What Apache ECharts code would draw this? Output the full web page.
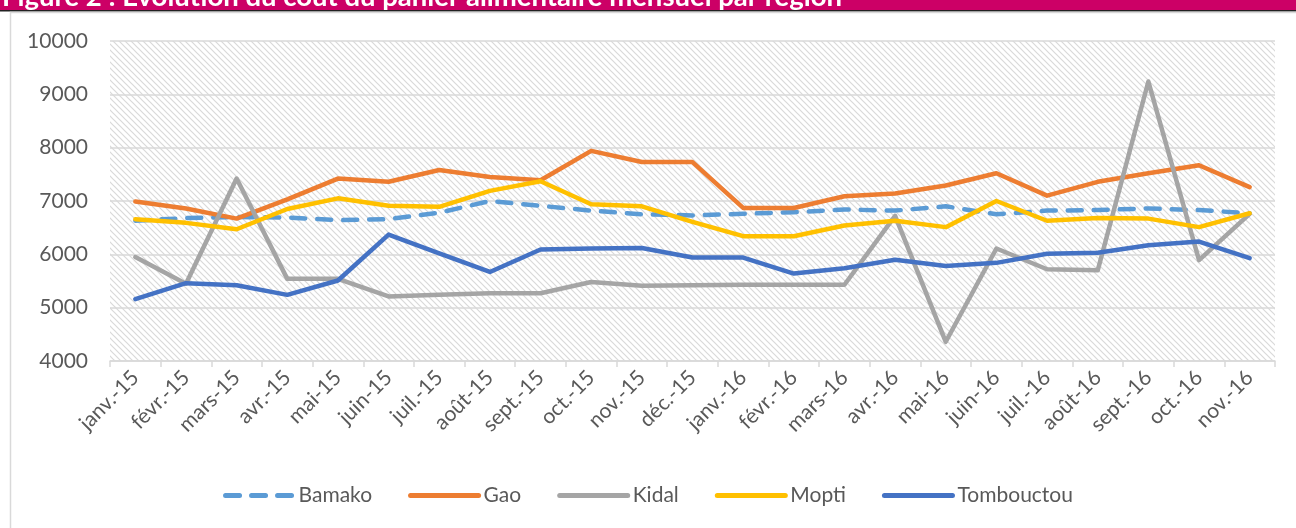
<!DOCTYPE html>
<html>
<head>
<meta charset="utf-8">
<script src="https://cdn.jsdelivr.net/npm/echarts@6/dist/echarts.min.js"></script>
<style>
  html, body { margin: 0; padding: 0; background: #fff; }
  #chart { width: 1296px; height: 528px; }
</style>
</head>
<body>
<div id="chart"></div>
<script>
// months, janv. 2015 -> nov. 2016
const months = ['janv.-15', 'févr.-15', 'mars-15', 'avr.-15', 'mai-15', 'juin-15', 'juil.-15', 'août-15',
  'sept.-15', 'oct.-15', 'nov.-15', 'déc.-15', 'janv.-16', 'févr.-16', 'mars-16', 'avr.-16', 'mai-16',
  'juin-16', 'juil.-16', 'août-16', 'sept.-16', 'oct.-16', 'nov.-16']

const bamako = [6630, 6680, 6700, 6690, 6640, 6660, 6780, 7000, 6910, 6820, 6750, 6730,
  6760, 6790, 6840, 6820, 6900, 6750, 6820, 6830, 6860, 6830, 6770]
const gao = [6990, 6860, 6670, 7030, 7420, 7360, 7580, 7450, 7390, 7940, 7730, 7730,
  6870, 6870, 7090, 7140, 7290, 7520, 7100, 7360, 7520, 7670, 7260]
const kidal = [5950, 5450, 7420, 5540, 5540, 5210, 5240, 5270, 5270, 5480, 5410, 5420,
  5430, 5430, 5430, 6720, 4360, 6110, 5720, 5700, 9240, 5890, 6760]
const mopti = [6660, 6590, 6470, 6850, 7050, 6910, 6890, 7190, 7370, 6940, 6900, 6610,
  6340, 6340, 6540, 6630, 6510, 7000, 6630, 6680, 6670, 6510, 6770]
const tombouctou = [5160, 5460, 5420, 5240, 5510, 6370, 6020, 5670, 6090, 6110, 6120, 5940,
  5940, 5640, 5740, 5900, 5780, 5840, 6010, 6030, 6170, 6240, 5930]

const yTicks = { min: 4000, max: 10000, interval: 1000 }

const fontFamily = 'Lato, "Open Sans", sans-serif'
const textColor = '#595959'

// hatched plot background
function hatch() {
  const s = 6
  const c = document.createElement('canvas')
  c.width = s
  c.height = s
  const ctx = c.getContext('2d')
  ctx.fillStyle = '#ffffff'
  ctx.fillRect(0, 0, s, s)
  ctx.strokeStyle = '#d9d9d9'
  ctx.lineWidth = 1.2
  ctx.beginPath()
  ctx.moveTo(-1, -1); ctx.lineTo(s + 1, s + 1)
  ctx.moveTo(-1, s - 1); ctx.lineTo(1, s + 1)
  ctx.moveTo(s - 1, -1); ctx.lineTo(s + 1, 1)
  ctx.stroke()
  return { image: c, repeat: 'repeat' }
}

function lineSeries(name, data, color, dashed) {
  return {
    name: name,
    type: 'line',
    data: data,
    symbol: 'none',
    smooth: false,
    lineStyle: {
      color: color,
      width: 4.5,
      type: dashed ? [14, 12] : 'solid',
      cap: 'round',
      join: 'round'
    },
    itemStyle: { color: color }
  }
}

const chart = echarts.init(document.getElementById('chart'))
chart.setOption({
  animation: false,
  backgroundColor: '#ffffff',
  textStyle: { fontFamily: fontFamily },
  graphic: [
    { type: 'rect', z: 0, shape: { x: 0, y: 0, width: 1296, height: 10 }, style: { fill: '#cc0066' } },
    { type: 'rect', z: 0, shape: { x: 0, y: 10, width: 1296, height: 1.5 }, style: { fill: '#222' } },
    { type: 'rect', z: 0, shape: { x: 10.5, y: 12.5, width: 1300, height: 530 }, style: { fill: 'none', stroke: '#d9d9d9', lineWidth: 1.5 } },
    {
      type: 'text', z: 1, left: 2, top: -17,
      style: { text: 'Figure 2 : Evolution du coût du panier alimentaire mensuel par région', fill: '#ffffff', font: 'bold 27.5px ' + fontFamily }
    }
  ],
  grid: {
    left: 110,
    right: 21,
    top: 41,
    bottom: 167,
    show: true,
    borderWidth: 0,
    backgroundColor: hatch()
  },
  legend: {
    bottom: 17,
    left: 'center',
    itemWidth: 68,
    itemHeight: 14,
    itemGap: 36,
    itemStyle: { opacity: 0 },
    lineStyle: { width: 5, cap: 'round' },
    textStyle: { color: textColor, fontSize: 21, fontFamily: fontFamily },
    data: ['Bamako', 'Gao', 'Kidal', 'Mopti', 'Tombouctou']
  },
  xAxis: {
    type: 'category',
    data: months,
    boundaryGap: true,
    axisLine: { lineStyle: { color: '#d9d9d9', width: 1.5 } },
    axisTick: { show: true, length: 6, lineStyle: { color: '#d9d9d9', width: 1.5 } },
    axisLabel: { rotate: 45, color: textColor, fontSize: 21, margin: 13, interval: 0 },
    splitLine: { show: false }
  },
  yAxis: {
    type: 'value',
    min: yTicks.min,
    max: yTicks.max,
    interval: yTicks.interval,
    axisLine: { show: false },
    axisTick: { show: false },
    axisLabel: { color: textColor, fontSize: 21, margin: 22, formatter: v => String(v) },
    splitLine: { lineStyle: { color: '#d9d9d9', width: 1.5 } }
  },
  series: [
    lineSeries('Bamako', bamako, '#5b9bd5', true),
    lineSeries('Gao', gao, '#ed7d31'),
    lineSeries('Kidal', kidal, '#a5a5a5'),
    lineSeries('Mopti', mopti, '#ffc000'),
    lineSeries('Tombouctou', tombouctou, '#4472c4')
  ]
})
</script>
</body>
</html>
